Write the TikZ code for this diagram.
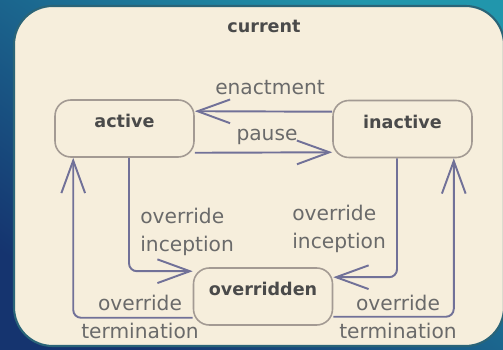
\documentclass[tikz,border=0pt]{standalone}
\usepackage{fontspec}
\setmainfont{DejaVu Sans}
\usetikzlibrary{arrows.meta,calc}

\definecolor{paper}{HTML}{F6EEDC}
\definecolor{framerim}{HTML}{2A6478}
\definecolor{boxline}{HTML}{A39A93}
\definecolor{transline}{HTML}{717198}
\definecolor{lbltext}{HTML}{6A6A6A}
\definecolor{statetext}{HTML}{4A4A4A}
\definecolor{bgteal}{HTML}{2196AC}
\definecolor{bgblue}{HTML}{1B5EA4}
\definecolor{bgnavy}{HTML}{15346F}

\begin{document}
\begin{tikzpicture}[x=0.02cm, y=-0.02cm,
    state/.style={draw=boxline, line width=0.9pt, fill=paper, rounded corners=9pt,
      minimum width=2.78cm, inner sep=0pt, text height=0.56cm, text depth=0.58cm,
      font=\fontsize{10}{12}\selectfont\bfseries, text=statetext},
    trans/.style={draw=transline, line width=1.1pt, rounded corners=4.5pt,
      -{Straight Barb[length=18.5pt, width=13.5pt]}},
    lbl/.style={font=\fontsize{11.5}{16}\selectfont, text=lbltext, inner sep=0pt}]
    % background and frame
    \shade[top color=bgteal, middle color=bgblue, bottom color=bgnavy, shading angle=-35]
      (0,0) rectangle (503,350);
    \useasboundingbox (0,0) rectangle (503,350);
    \draw[framerim, fill=paper, line width=1.2pt, rounded corners=22pt] (14,6) rectangle (504,346);
    \node[font=\fontsize{10}{12}\selectfont\bfseries, text=statetext, anchor=base] (current) at (264,33) {current};

    % states
    \node[state] (active) at (124.5,128.5) {active};
    \node[state] (inactive) at (402.5,129) {inactive};
    \node[state] (overridden) at (263,296.5) {overridden};

    % transitions
    \draw[trans] ($(inactive.north west)+(0,12)$) -- ($(active.north east)+(0,12)$);
    \draw[trans] ($(active.south east)+(0,-5)$) -- ($(inactive.south west)+(0,-6)$);
    \draw[trans] ($(active.south)+(4.5,0)$) |- ($(overridden.north west)+(0,4)$);
    \draw[trans] ($(inactive.south)+(-5.5,0)$) |- ($(overridden.north east)+(0,10)$);
    \draw[trans] ($(overridden.south west)+(0,-8)$) -| ($(active.south west)+(19,0)$);
    \draw[trans] ($(overridden.south east)+(0,-9)$) -| ($(inactive.south east)+(-19,0)$);

    % labels
    \node[lbl, anchor=base] (enactlbl) at (270,95) {enactment};
    \node[lbl, anchor=base] (pauselbl) at (267,141) {pause};
    \node[lbl, align=left, anchor=west] (leftinc) at (140,232) {override\\inception};
    \node[lbl, align=left, anchor=west] (rightinc) at (292,229) {override\\inception};
    \node[lbl, align=center] (leftterm) at (140,317) {override\\termination};
    \node[lbl, align=center] (rightterm) at (398,317) {override\\termination};
\end{tikzpicture}
\end{document}
